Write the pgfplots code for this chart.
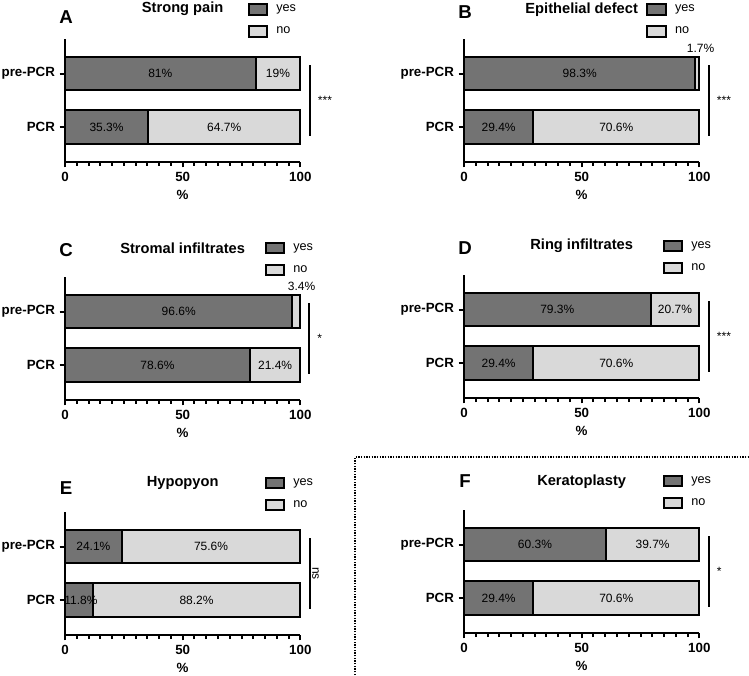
\documentclass[border=0pt]{standalone}
\usepackage{fontspec}
\setmainfont{Liberation Sans}
\usepackage{pgfplots}
\pgfplotsset{compat=1.18}

\definecolor{yescol}{RGB}{115,115,115}
\definecolor{nocol}{RGB}{217,217,217}

\tikzset{
  lab/.style={font=\fontsize{9}{11}\selectfont},
  letter/.style={font=\bfseries\fontsize{14}{16}\selectfont},
}

\pgfplotsset{
  panel/.style={
    xbar stacked, scale only axis,
    width=176.5pt, height=92pt, anchor=south west,
    xmin=0, xmax=100, ymin=-0.65, ymax=1.64,
    ytick={0,1}, yticklabels={PCR,pre-PCR},
    xtick={0,50,100}, minor x tick num=9,
    axis lines*=left,
    axis line style={-, line width=1.5pt},
    tick style={black, line width=1.5pt},
    major tick length=4pt, minor tick length=3pt,
    tick align=outside,
    bar width=0.63, clip=false,
    /pgf/number format/assume math mode=true,
    tick label style={font=\bfseries\fontsize{10}{12}\selectfont},
    xlabel={\%},
    xlabel style={at={(rel axis cs:0.5,0)}, anchor=center, yshift=-24.75pt,
      font=\bfseries\fontsize{10}{12}\selectfont},
    every axis title/.style={anchor=center, font=\bfseries\fontsize{11}{13}\selectfont},
    every axis plot/.append style={draw=black, line width=1.5pt},
    legend image code/.code={\draw[##1, line width=1.5pt] (0pt,-4pt) rectangle (14pt,4pt);},
    legend style={anchor=north west, yshift=8.25pt, draw=none, fill=none,
      inner sep=0pt, row sep=0pt,
      nodes={inner sep=0pt, minimum height=16.5pt, font=\fontsize{9.5}{11}\selectfont},
      /tikz/every odd column/.append style={column sep=6pt}},
    legend cell align=left,
  },
}

\begin{document}
\begin{tikzpicture}
\useasboundingbox (0pt,0pt) rectangle (561.75pt,506.25pt);

% A
\begin{axis}[panel, at={(48.75pt,384.75pt)},
  title={Strong pain}, title style={at={(rel axis cs:0.5,1.25)}},
  legend style={at={(rel axis cs:0.775,1.245)}}]
\addplot[fill=yescol] coordinates {(81,1) (35.3,0)};
\addplot[fill=nocol] coordinates {(19,1) (64.7,0)};
\legend{yes,no}
\coordinate (a1) at (axis cs:40.5,1);
\coordinate (a2) at (axis cs:90.5,1);
\coordinate (a3) at (axis cs:17.65,0);
\coordinate (a4) at (axis cs:67.65,0);
\draw[line width=1.5pt] (axis cs:104.3,1.16) -- (axis cs:104.3,-0.17);
\node[lab, anchor=west] at (axis cs:105.5,0.5) {***};
\node[letter] at (rel axis cs:0.005,1.18) {A};
\end{axis}
\node[lab] at (a1) {81\%};
\node[lab] at (a2) {19\%};
\node[lab] at (a3) {35.3\%};
\node[lab] at (a4) {64.7\%};

% B
\begin{axis}[panel, at={(348pt,384.75pt)},
  title={Epithelial defect}, title style={at={(rel axis cs:0.5,1.245)}},
  legend style={at={(rel axis cs:0.774,1.245)}}]
\addplot[fill=yescol] coordinates {(98.3,1) (29.4,0)};
\addplot[fill=nocol] coordinates {(1.7,1) (70.6,0)};
\legend{yes,no}
\coordinate (b1) at (axis cs:49.15,1);
\coordinate (b3) at (axis cs:14.7,0);
\coordinate (b4) at (axis cs:64.7,0);
\node[lab] at (axis cs:100.5,1.48) {1.7\%};
\draw[line width=1.5pt] (axis cs:104.3,1.16) -- (axis cs:104.3,-0.17);
\node[lab, anchor=west] at (axis cs:105.5,0.5) {***};
\node[letter] at (rel axis cs:0.005,1.225) {B};
\end{axis}
\node[lab] at (b1) {98.3\%};
\node[lab] at (b3) {29.4\%};
\node[lab] at (b4) {70.6\%};

% C
\begin{axis}[panel, at={(48.75pt,206.25pt)},
  title={Stromal infiltrates}, title style={at={(rel axis cs:0.5,1.236)}},
  legend style={at={(rel axis cs:0.847,1.24)}}]
\addplot[fill=yescol] coordinates {(96.6,1) (78.6,0)};
\addplot[fill=nocol] coordinates {(3.4,1) (21.4,0)};
\legend{yes,no}
\coordinate (c1) at (axis cs:48.3,1);
\coordinate (c3) at (axis cs:39.3,0);
\coordinate (c4) at (axis cs:89.3,0);
\node[lab] at (axis cs:100.5,1.48) {3.4\%};
\draw[line width=1.5pt] (axis cs:103.8,1.16) -- (axis cs:103.8,-0.17);
\node[lab, anchor=west] at (axis cs:105.2,0.5) {*};
\node[letter] at (rel axis cs:0.005,1.22) {C};
\end{axis}
\node[lab] at (c1) {96.6\%};
\node[lab] at (c3) {78.6\%};
\node[lab] at (c4) {21.4\%};

% D
\begin{axis}[panel, at={(348pt,207.75pt)},
  title={Ring infiltrates}, title style={at={(rel axis cs:0.5,1.24)}},
  legend style={at={(rel axis cs:0.843,1.24)}}]
\addplot[fill=yescol] coordinates {(79.3,1) (29.4,0)};
\addplot[fill=nocol] coordinates {(20.7,1) (70.6,0)};
\legend{yes,no}
\coordinate (d1) at (axis cs:39.65,1);
\coordinate (d2) at (axis cs:89.65,1);
\coordinate (d3) at (axis cs:14.7,0);
\coordinate (d4) at (axis cs:64.7,0);
\draw[line width=1.5pt] (axis cs:104.3,1.16) -- (axis cs:104.3,-0.17);
\node[lab, anchor=west] at (axis cs:105.5,0.5) {***};
\node[letter] at (rel axis cs:0.005,1.22) {D};
\end{axis}
\node[lab] at (d1) {79.3\%};
\node[lab] at (d2) {20.7\%};
\node[lab] at (d3) {29.4\%};
\node[lab] at (d4) {70.6\%};

% E
\begin{axis}[panel, at={(48.75pt,30pt)},
  title={Hypopyon}, title style={at={(rel axis cs:0.5,1.236)}},
  legend style={at={(rel axis cs:0.847,1.24)}}]
\addplot[fill=yescol] coordinates {(24.1,1) (11.8,0)};
\addplot[fill=nocol] coordinates {(75.6,1) (88.2,0)};
\legend{yes,no}
\coordinate (e1) at (axis cs:12.05,1);
\coordinate (e2) at (axis cs:62.05,1);
\coordinate (e3) at (axis cs:6.8,0);
\coordinate (e4) at (axis cs:55.9,0);
\draw[line width=1.5pt] (axis cs:104.3,1.16) -- (axis cs:104.3,-0.17);
\node[lab, rotate=-90] at (axis cs:106.5,0.5) {ns};
\node[letter] at (rel axis cs:0.005,1.20) {E};
\end{axis}
\node[lab] at (e1) {24.1\%};
\node[lab] at (e2) {75.6\%};
\node[lab] at (e3) {11.8\%};
\node[lab] at (e4) {88.2\%};

% F
\begin{axis}[panel, at={(348pt,31.5pt)},
  title={Keratoplasty}, title style={at={(rel axis cs:0.5,1.23)}},
  legend style={at={(rel axis cs:0.843,1.24)}}]
\addplot[fill=yescol] coordinates {(60.3,1) (29.4,0)};
\addplot[fill=nocol] coordinates {(39.7,1) (70.6,0)};
\legend{yes,no}
\coordinate (f1) at (axis cs:30.15,1);
\coordinate (f2) at (axis cs:80.15,1);
\coordinate (f3) at (axis cs:14.7,0);
\coordinate (f4) at (axis cs:64.7,0);
\draw[line width=1.5pt] (axis cs:104.3,1.16) -- (axis cs:104.3,-0.17);
\node[lab, anchor=west] at (axis cs:105.5,0.5) {*};
\node[letter] at (rel axis cs:0.005,1.24) {F};
\end{axis}
\node[lab] at (f1) {60.3\%};
\node[lab] at (f2) {39.7\%};
\node[lab] at (f3) {29.4\%};
\node[lab] at (f4) {70.6\%};

% dotted separator
\draw[line width=1.2pt, dash pattern=on 1pt off 1pt]
  (266.25pt,0pt) -- (266.25pt,163.5pt) -- (561.75pt,163.5pt);
\end{tikzpicture}
\end{document}
